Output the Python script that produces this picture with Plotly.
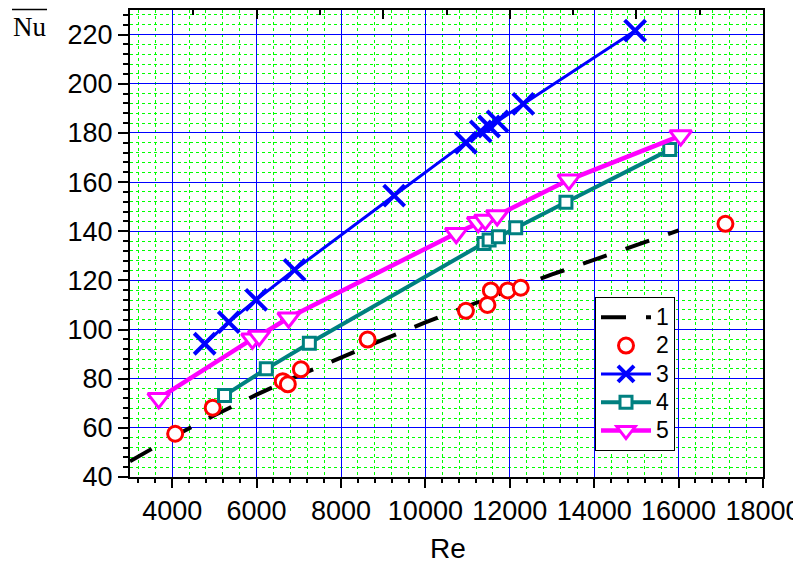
import plotly.graph_objects as go

# ---- data ----
re1 = [3000, 4000, 5000, 6000, 7000, 8000, 9000, 10000, 11000, 12000, 13000, 14000, 15000, 16000]
nu1 = [46.4, 56.2, 65.1, 73.5, 81.3, 88.8, 95.9, 102.9, 109.6, 116.1, 122.4, 128.5, 134.6, 140.3]

re2 = [4070, 4960, 6620, 6740, 7050, 8630, 10960, 11470, 11550, 11950, 12260, 17110]
nu2 = [57.6, 68.2, 79.0, 77.7, 83.8, 95.9, 107.6, 110.0, 115.9, 115.9, 117.0, 143.0]

re3 = [4770, 5340, 5990, 6900, 9260, 10960, 11310, 11510, 11710, 12320, 14970]
nu3 = [94.2, 103.0, 112.1, 124.3, 154.5, 176.0, 180.6, 182.6, 184.7, 191.8, 221.6]

re4 = [5240, 6230, 7250, 11390, 11510, 11730, 12140, 13330, 15790]
nu4 = [73.2, 84.0, 94.4, 135.0, 136.4, 137.7, 141.4, 151.8, 173.2]

re5 = [3680, 5900, 6060, 6760, 10730, 11250, 11420, 11700, 13400, 16050]
nu5 = [72.0, 96.2, 97.4, 104.8, 139.2, 143.6, 144.6, 146.4, 160.9, 178.9]

labels = ["1", "2", "3", "4", "5"]

x_range = [3000, 18000]
y_range = [40, 230]

FONT = "Arial, Liberation Sans, sans-serif"


def legend_name(s):
    # larger glyphs than the legend row pitch
    return "<span style='font-size:23px'>" + s + "</span>"


fig = go.Figure()

fig.add_trace(go.Scatter(
    x=re1, y=nu1, name=legend_name(labels[0]), mode="lines",
    line=dict(color="black", width=4, dash="25px,20px"),
))
fig.add_trace(go.Scatter(
    x=re2, y=nu2, name=legend_name(labels[1]), mode="markers",
    marker=dict(symbol="circle", size=15, color="white",
                line=dict(color="#ff0000", width=3)),
))
fig.add_trace(go.Scatter(
    x=re3, y=nu3, name=legend_name(labels[2]), mode="lines+markers",
    line=dict(color="#0000ff", width=3),
    marker=dict(symbol="x-thin", size=21, color="#0000ff",
                line=dict(color="#0000ff", width=4)),
))
fig.add_trace(go.Scatter(
    x=re4, y=nu4, name=legend_name(labels[3]), mode="lines+markers",
    line=dict(color="#008080", width=4),
    marker=dict(symbol="square", size=12, color="white",
                line=dict(color="#008080", width=3)),
))
fig.add_trace(go.Scatter(
    x=re5, y=nu5, name=legend_name(labels[4]), mode="lines+markers",
    line=dict(color="#ff00ff", width=4.5),
    marker=dict(symbol="triangle-down", size=19, color="white",
                line=dict(color="#ff00ff", width=3)),
))

# empty helper traces so the tick-only overlay axes are drawn
fig.add_trace(go.Scatter(x=[], y=[], xaxis="x2", yaxis="y", showlegend=False, hoverinfo="skip"))
fig.add_trace(go.Scatter(x=[], y=[], xaxis="x3", yaxis="y2", showlegend=False, hoverinfo="skip"))

# the page body has an 8px margin, so the figure is 8px smaller and margins shifted
fig.update_layout(
    width=793, height=555,
    margin=dict(l=122, r=38, t=2, b=86, autoexpand=False),
    paper_bgcolor="white", plot_bgcolor="white",
    font=dict(family=FONT, color="black", size=27),
    showlegend=True,
    legend=dict(
        x=0.7346, y=0.3854, xanchor="left", yanchor="top",
        bgcolor="white", bordercolor="black", borderwidth=1,
        font=dict(family=FONT, size=19.5, color="black"),
        itemwidth=50, tracegroupgap=0,
    ),
    xaxis=dict(
        range=x_range, tick0=0, dtick=2000, tickformat="d",
        ticks="outside", ticklen=9,
        tickwidth=2, tickcolor="black", showline=True, linecolor="black",
        linewidth=2, mirror=True, showgrid=True, gridcolor="#0000ff",
        gridwidth=1, zeroline=False,
        tickfont=dict(family=FONT, size=27),
        minor=dict(tick0=0, dtick=400, ticks="", showgrid=True,
                   gridcolor="#00ff00", gridwidth=1, griddash="dot"),
    ),
    xaxis2=dict(
        range=x_range, overlaying="x", side="top", anchor="y",
        tick0=0, dtick=3000, ticks="inside", ticklen=9, tickwidth=2,
        tickcolor="black", showticklabels=False, showgrid=False,
        zeroline=False, showline=False,
        minor=dict(tick0=0, dtick=1500, ticks="inside", ticklen=5,
                   tickwidth=2, tickcolor="black", showgrid=False),
    ),
    xaxis3=dict(
        range=x_range, overlaying="x", side="bottom", anchor="y",
        tick0=0, dtick=400, ticks="outside", ticklen=5, tickwidth=2,
        tickcolor="black", showticklabels=False, showgrid=False,
        zeroline=False, showline=False,
    ),
    yaxis=dict(
        range=y_range, tick0=0, dtick=20, tickformat="d",
        ticks="outside", ticklen=10,
        tickwidth=2, tickcolor="black", showline=True, linecolor="black",
        linewidth=2, mirror=True, showgrid=True, gridcolor="#0000ff",
        gridwidth=1, zeroline=False,
        tickfont=dict(family=FONT, size=27),
        minor=dict(tick0=0, dtick=4, ticks="", showgrid=True,
                   gridcolor="#00ff00", gridwidth=1, griddash="dot"),
    ),
    yaxis2=dict(
        range=y_range, overlaying="y", side="left", anchor="x",
        tick0=0, dtick=4, ticks="outside", ticklen=6, tickwidth=2,
        tickcolor="black", showticklabels=False, showgrid=False,
        zeroline=False, showline=False,
    ),
)

# axis titles
fig.add_annotation(
    text="Re", xref="paper", yref="paper", x=0.5024, y=-0.154,
    xanchor="center", yanchor="middle", showarrow=False,
    font=dict(family=FONT, size=28, color="black"),
)
fig.add_annotation(
    text="Nu", xref="paper", yref="paper", x=-0.1588, y=0.9636,
    xanchor="center", yanchor="middle", showarrow=False,
    font=dict(family="Liberation Serif, Times New Roman, serif", size=27, color="black"),
)
# overline on Nu
fig.add_shape(
    type="line", xref="paper", yref="paper",
    x0=-0.1864, x1=-0.1311, y0=1.0011, y1=1.0011,
    line=dict(color="black", width=1.5),
)

fig.write_html("out.html")
